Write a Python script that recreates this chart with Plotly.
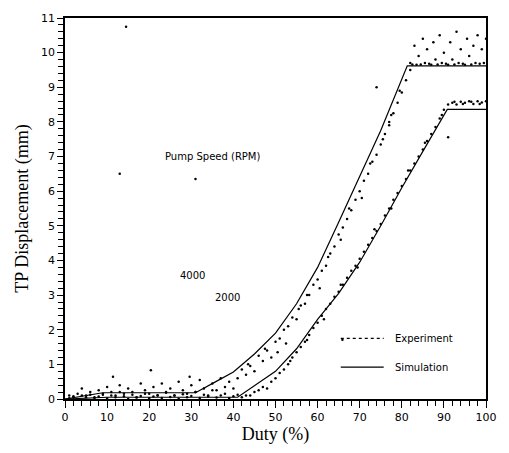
import plotly.graph_objects as go

# Simulation curves
sim4000_x = [0, 5, 9, 20, 31, 35.5, 40, 45, 50, 55, 60, 65, 70, 75, 81.3, 100]
sim4000_y = [0, 0.1, 0.18, 0.18, 0.18, 0.48, 0.78, 1.3, 1.9, 2.75, 3.8, 5.1, 6.4, 7.75, 9.62, 9.62]

sim2000_x = [0, 10, 41, 50, 55, 60, 65, 70, 75, 80, 85, 90.8, 100]
sim2000_y = [0, 0.05, 0.05, 0.8, 1.45, 2.3, 3.05, 3.95, 5.0, 6.1, 7.15, 8.36, 8.36]

# Experimental data, 4000 RPM
exp4000_x = [1, 2, 3, 4, 5, 6, 7, 8, 9, 10, 11, 11.4, 12, 13, 14, 15, 16, 17, 18, 19, 20, 20.4, 21, 22, 23, 24, 25, 26, 27, 28, 29,
             29.6, 30, 31, 32, 33, 34, 35, 36, 37, 38, 39, 40,
             41, 42, 43, 43.5, 44, 45, 46, 47, 47.5, 48, 49, 50, 50.5, 51, 52, 52.5, 53, 54, 55, 55.5, 56, 57, 57.5, 58, 59,
             60, 60.5, 61, 62, 62.5, 63, 64, 65, 65.5, 66, 67, 67.5, 68, 69, 70, 70.5, 71, 72, 72.5, 73, 74, 75, 75.5,
             76, 77, 77.5, 78, 79, 79.5, 80, 81, 82,
             82, 82.5, 83, 83.5, 84, 84.5, 85, 85.5, 86, 86.5, 87, 87.5, 88, 88.5, 89, 89.5, 90, 90.5, 91, 91.5, 92, 92.5,
             93, 93.5, 94, 94.5, 95, 95.5, 96, 96.5, 97, 97.5, 98, 98.5, 99, 99.5, 100,
             14.5, 13, 31, 74, 77]
exp4000_y = [0.1, 0.05, 0.15, 0.3, 0.1, 0.2, 0.05, 0.25, 0.12, 0.35, 0.2, 0.64, 0.1, 0.4, 0.15, 0.3, 0.2, 0.05, 0.45, 0.25, 0.15, 0.83, 0.35, 0.1, 0.45, 0.2, 0.3, 0.1, 0.5, 0.25, 0.15,
             0.64, 0.4, 0.2, 0.55, 0.3, 0.1, 0.45, 0.25, 0.6, 0.35, 0.5, 0.3,
             0.6, 0.85, 0.7, 1.0, 0.95, 0.8, 1.25, 1.1, 1.45, 1.4, 1.2, 1.65, 1.35, 1.75, 2.0, 1.6, 2.1, 2.35, 2.3, 2.6, 2.7, 2.75, 3.0, 3.0, 3.3,
             3.45, 3.2, 3.7, 3.85, 4.1, 4.2, 4.4, 4.75, 4.6, 4.95, 5.2, 5.5, 5.45, 5.75, 6.0, 5.8, 6.3, 6.5, 6.8, 6.85, 7.05, 7.35, 7.5,
             7.65, 7.9, 8.2, 8.25, 8.55, 8.9, 8.85, 9.2, 9.5,
             9.7, 9.66, 10.2, 9.65, 9.9, 9.66, 10.4, 9.7, 10.1, 9.68, 9.65, 10.3, 9.8, 9.66, 10.5, 9.7, 10.0, 9.68, 9.65, 10.3, 9.8, 9.66,
             10.6, 9.7, 10.1, 9.68, 9.65, 10.4, 9.9, 9.66, 10.2, 9.7, 10.5, 9.68, 10.1, 9.7, 10.4,
             10.75, 6.5, 6.35, 9.0, 8.0]

# Experimental data, 2000 RPM
exp2000_x = [1, 2, 3, 4, 5, 6, 7, 8, 9, 10, 11, 12, 13, 14, 15, 16, 17, 18, 19, 20, 21, 22, 23, 24, 25, 26, 27, 28, 29, 30,
             31, 32, 33, 34, 35, 36, 37, 38, 39, 40, 41, 42, 43,
             44, 45, 46, 47, 48, 49, 50, 51, 52, 53, 53.5, 54, 55, 56, 57, 57.5, 58, 59, 60, 61, 61.5, 62, 63, 64, 65, 65.5,
             66, 67, 68, 69, 69.5, 70, 71, 72, 73, 73.5, 74, 75, 76, 77, 77.5, 78, 79, 80, 81, 81.5, 82, 83, 84, 85, 85.5,
             86, 87, 88, 89, 89.5, 90, 91, 92, 92.5, 93, 94, 94.5, 95, 96, 96.5, 97, 98, 98.5, 99, 100, 91, 65.9]
exp2000_y = [0.02, 0.08, 0.0, 0.1, 0.05, 0.12, 0.03, 0.07, 0.15, 0.02, 0.1, 0.05, 0.2, 0.08, 0.0, 0.12, 0.04, 0.09, 0.15, 0.02, 0.07, 0.11, 0.03, 0.18, 0.06, 0.1, 0.01, 0.14, 0.05, 0.09,
             0.2, 0.03, 0.12, 0.07, 0.25, 0.04, 0.1, 0.15, 0.02, 0.08, 0.12, 0.05, 0.1,
             0.1, 0.2, 0.25, 0.35, 0.3, 0.5, 0.6, 0.75, 0.85, 1.0, 1.1, 1.2, 1.35, 1.5, 1.65, 1.7, 1.85, 2.05, 2.2, 2.4, 2.3, 2.6, 2.75, 2.95, 3.1, 3.3,
             3.3, 3.5, 3.7, 3.85, 3.8, 4.05, 4.25, 4.45, 4.65, 4.9, 4.85, 5.05, 5.3, 5.5, 5.5, 5.75, 5.95, 6.15, 6.35, 6.6, 6.6, 6.8, 7.0, 7.2, 7.4,
             7.45, 7.65, 7.85, 8.1, 8.2, 8.35, 8.5, 8.55, 8.58, 8.5, 8.58, 8.52, 8.55, 8.6, 8.58, 8.52, 8.6, 8.52, 8.56, 8.6, 7.56, 1.71]

fig = go.Figure()
fig.add_trace(go.Scatter(x=exp4000_x, y=exp4000_y, mode="markers",
                         marker=dict(color="black", size=2.5), showlegend=False))
fig.add_trace(go.Scatter(x=exp2000_x, y=exp2000_y, mode="markers",
                         marker=dict(color="black", size=2.5), showlegend=False))
fig.add_trace(go.Scatter(x=sim4000_x, y=sim4000_y, mode="lines",
                         line=dict(color="black", width=1.2), showlegend=False))
fig.add_trace(go.Scatter(x=sim2000_x, y=sim2000_y, mode="lines",
                         line=dict(color="black", width=1.2), showlegend=False))

# manual legend
fig.add_shape(type="line", xref="x", yref="y", x0=65.5, x1=75.7, y0=1.75, y1=1.75,
              line=dict(color="black", width=1.2, dash="dot"))
fig.add_shape(type="line", xref="x", yref="y", x0=65.5, x1=75.7, y0=0.92, y1=0.92,
              line=dict(color="black", width=1.2))

ann_font = dict(family="DejaVu Sans", size=10, color="black")
fig.add_annotation(x=78, y=1.75, xref="x", yref="y", text="Experiment", showarrow=False,
                   xanchor="left", font=ann_font)
fig.add_annotation(x=78, y=0.92, xref="x", yref="y", text="Simulation", showarrow=False,
                   xanchor="left", font=ann_font)
fig.add_annotation(x=35, y=7.0, xref="x", yref="y", text="Pump Speed (RPM)", showarrow=False,
                   font=ann_font)
fig.add_annotation(x=30.4, y=3.57, xref="x", yref="y", text="4000", showarrow=False, font=ann_font)
fig.add_annotation(x=38.5, y=2.92, xref="x", yref="y", text="2000", showarrow=False, font=ann_font)

fig.update_layout(
    width=509, height=453,
    margin=dict(l=65, r=17, t=13, b=45),
    plot_bgcolor="white", paper_bgcolor="white",
    font=dict(family="DejaVu Sans", size=11, color="black"),
)
fig.update_xaxes(
    range=[0, 100], dtick=10,
    showgrid=False, zeroline=False,
    showline=True, linecolor="black", linewidth=1.5, mirror=True,
    ticks="outside", ticklen=7, tickcolor="black", tickwidth=1.3,
    tickfont=dict(family="DejaVu Sans", size=11, color="black"),
    minor=dict(dtick=2, ticks="outside", ticklen=5, tickcolor="black", tickwidth=1.3),
    title=dict(text="Duty (%)", font=dict(family="Liberation Serif", size=18, color="black"), standoff=4),
)
fig.update_yaxes(
    range=[0, 11], dtick=1,
    showgrid=False, zeroline=False,
    showline=True, linecolor="black", linewidth=1.5, mirror=True,
    ticks="outside", ticklen=6, tickcolor="black", tickwidth=1.3,
    tickfont=dict(family="DejaVu Sans", size=11, color="black"),
    minor=dict(dtick=0.2, ticks="outside", ticklen=5, tickcolor="black", tickwidth=1.3),
    title=dict(text="TP Displacement (mm)", font=dict(family="Liberation Serif", size=18, color="black"), standoff=8),
)

fig.write_html("out.html")
